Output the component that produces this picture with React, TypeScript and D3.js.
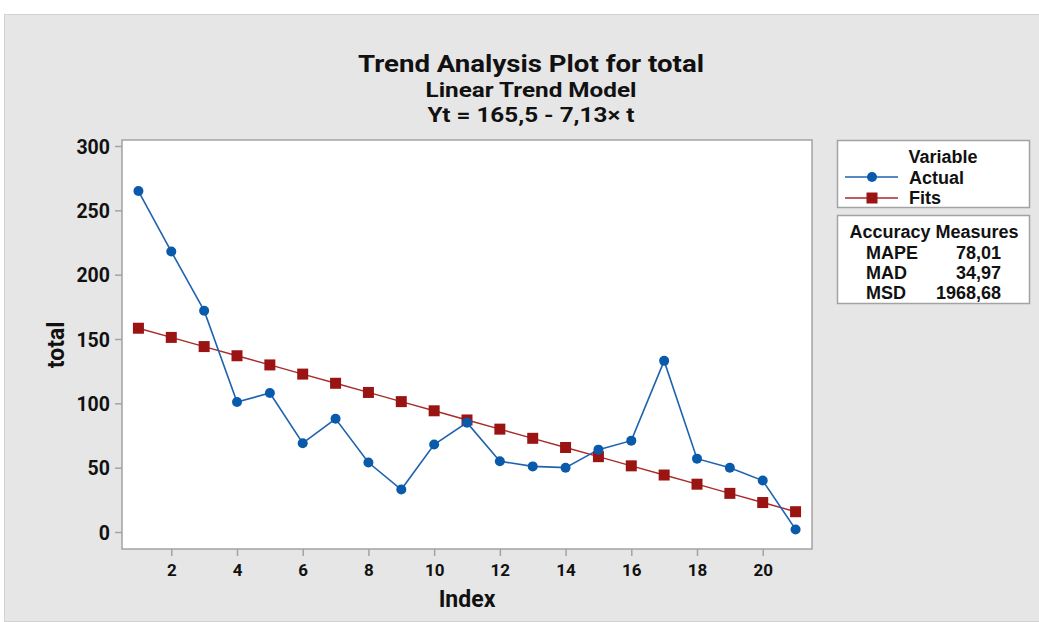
import * as d3 from "d3";
import { useEffect, useRef } from "react";

// data
const indexes = [1, 2, 3, 4, 5, 6, 7, 8, 9, 10, 11, 12, 13, 14, 15, 16, 17, 18, 19, 20, 21];
const actual = [265, 218, 172, 101, 108, 69, 88, 54, 33, 68, 85, 55, 51, 50, 64, 71, 133, 57, 50, 40, 2];
const fits = [158.37, 151.24, 144.11, 136.98, 129.85, 122.72, 115.59, 108.46, 101.33, 94.2, 87.07,
  79.94, 72.81, 65.68, 58.55, 51.42, 44.29, 37.16, 30.03, 22.9, 15.77];
const xTicks = [2, 4, 6, 8, 10, 12, 14, 16, 18, 20];
const yTicks = [0, 50, 100, 150, 200, 250, 300];
const measureNames = ["MAPE", "MAD", "MSD"];
const measureValues = ["78,01", "34,97", "1968,68"];

export default function App() {
  const ref = useRef<SVGSVGElement>(null);

  useEffect(() => {
    const W = 1039, H = 622;
    const svg = d3.select(ref.current);
    svg.selectAll("*").remove();

    // panel background
    svg.append("rect").attr("x", 0).attr("y", 0).attr("width", W).attr("height", H).attr("fill", "#fff");
    svg.append("rect").attr("x", 4.5).attr("y", 14.5).attr("width", W - 4).attr("height", H - 15)
      .attr("fill", "#e6e6e6").attr("stroke", "#d2d2d2");

    const font = "Roboto, 'Liberation Sans', sans-serif";

    // titles
    const titles = [
      { t: "Trend Analysis Plot for total", y: 72, size: 24, len: 346 },
      { t: "Linear Trend Model", y: 97, size: 20, len: 211 },
      { t: "Yt = 165,5 - 7,13× t", y: 122, size: 20, len: 207 },
    ];
    titles.forEach((d) => {
      svg.append("text").attr("x", 531).attr("y", d.y).attr("text-anchor", "middle")
        .attr("font-family", font).attr("font-weight", "bold").attr("font-size", d.size)
        .attr("textLength", d.len).attr("lengthAdjust", "spacingAndGlyphs")
        .attr("fill", "#111").text(d.t);
    });

    const left = 122, right = 812, top = 140, bottom = 549;
    const x = d3.scaleLinear().domain([0.5, 21.5]).range([left, right]);
    const y = d3.scaleLinear().domain([0, 300]).range([532, 146]);

    svg.append("rect").attr("x", left).attr("y", top).attr("width", right - left).attr("height", bottom - top)
      .attr("fill", "#fff").attr("stroke", "#a3a3a3").attr("stroke-width", 1.5);

    // y axis
    const gy = svg.append("g").attr("transform", `translate(${left},0)`)
      .call(d3.axisLeft(y).tickValues(yTicks).tickSize(7).tickPadding(5));
    gy.select(".domain").remove();
    gy.selectAll(".tick line").attr("stroke", "#a3a3a3").attr("stroke-width", 1.5);
    gy.selectAll(".tick text").attr("font-family", font).attr("font-weight", "bold")
      .attr("font-size", 19.5).attr("fill", "#111").attr("dy", "0.36em");

    // x axis
    const gx = svg.append("g").attr("transform", `translate(0,${bottom})`)
      .call(d3.axisBottom(x).tickValues(xTicks).tickSize(7).tickPadding(8));
    gx.select(".domain").remove();
    gx.selectAll(".tick line").attr("stroke", "#a3a3a3").attr("stroke-width", 1.5);
    gx.selectAll(".tick text").attr("font-family", font).attr("font-weight", "bold")
      .attr("font-size", 17).attr("fill", "#111");

    svg.append("text").attr("x", 467).attr("y", 607).attr("text-anchor", "middle")
      .attr("font-family", font).attr("font-weight", "bold").attr("font-size", 23)
      .attr("fill", "#111").text("Index");
    svg.append("text").attr("transform", "translate(64,345) rotate(-90)").attr("text-anchor", "middle")
      .attr("font-family", font).attr("font-weight", "bold").attr("font-size", 23)
      .attr("fill", "#111").text("total");

    const blue = "#0a5aab", red = "#9b1414";
    const line = d3.line<number>().x((_, i) => x(indexes[i])).y((d) => y(d));

    // fits
    svg.append("path").datum(fits).attr("d", line).attr("fill", "none")
      .attr("stroke", "#a82a2a").attr("stroke-width", 1.4);
    // actual
    svg.append("path").datum(actual).attr("d", line).attr("fill", "none")
      .attr("stroke", "#1e63b0").attr("stroke-width", 1.6);
    svg.append("g").selectAll("rect").data(fits).enter().append("rect")
      .attr("x", (_, i) => x(indexes[i]) - 5.5).attr("y", (d) => y(d) - 5.5)
      .attr("width", 11).attr("height", 11).attr("fill", red);
    svg.append("g").selectAll("circle").data(actual).enter().append("circle")
      .attr("cx", (_, i) => x(indexes[i])).attr("cy", (d) => y(d)).attr("r", 5).attr("fill", blue);

    // legend
    svg.append("rect").attr("x", 837.5).attr("y", 140.5).attr("width", 192).attr("height", 67)
      .attr("fill", "#fff").attr("stroke", "#a3a3a3").attr("stroke-width", 1.5);
    const lf = (s: string, xx: number, yy: number, anchor = "start") =>
      svg.append("text").attr("x", xx).attr("y", yy).attr("text-anchor", anchor)
        .attr("font-family", "'Liberation Sans', Arial, sans-serif").attr("font-weight", "bold")
        .attr("font-size", 18).attr("fill", "#111").text(s);
    lf("Variable", 943, 163, "middle");
    lf("Actual", 909, 184);
    lf("Fits", 909, 204);
    svg.append("line").attr("x1", 845).attr("x2", 898).attr("y1", 177).attr("y2", 177)
      .attr("stroke", "#1e63b0").attr("stroke-width", 1.6);
    svg.append("circle").attr("cx", 872).attr("cy", 177).attr("r", 5).attr("fill", blue);
    svg.append("line").attr("x1", 845).attr("x2", 898).attr("y1", 198).attr("y2", 198)
      .attr("stroke", "#a82a2a").attr("stroke-width", 1.4);
    svg.append("rect").attr("x", 866.5).attr("y", 192.5).attr("width", 11).attr("height", 11).attr("fill", red);

    svg.append("rect").attr("x", 837.5).attr("y", 215.5).attr("width", 192).attr("height", 88)
      .attr("fill", "#fff").attr("stroke", "#a3a3a3").attr("stroke-width", 1.5);
    lf("Accuracy Measures", 934, 238, "middle");
    measureNames.forEach((m, i) => {
      lf(m, 866, 259 + i * 20);
      lf(measureValues[i], 1001, 259 + i * 20, "end");
    });
  }, []);

  return (
    <svg ref={ref} width={1039} height={622}
      style={{ position: "absolute", left: 0, top: 0, display: "block" }} />
  );
}
